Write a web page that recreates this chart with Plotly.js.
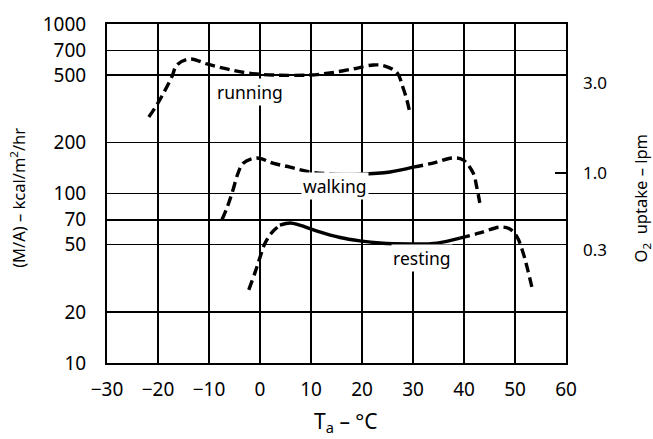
<!DOCTYPE html>
<html>
<head>
<meta charset="utf-8">
<script src="https://cdn.plot.ly/plotly-3.0.1.min.js"></script>
<style>
  html, body { margin: 0; padding: 0; background: #fff; }
  #chart { width: 653px; height: 439px; }
</style>
</head>
<body>
<div id="chart"></div>
<script>
// Metabolic rate per unit body surface vs ambient temperature
const runningTemp = [-21.8, -20.0, -17.3, -16.3, -13.7, -10.4, -6.5, -2.5, 2.5, 9.8, 13.7, 18.2, 22.2, 24.5, 26.9, 28.0, 28.8, 29.4];
const runningRate = [283, 342, 487, 573, 622, 581, 543, 514, 500, 500, 514, 543, 573, 565, 514, 425, 356, 299];

const walkingTemp = [-7.45, -6.3, -5.3, -4.3, -3.3, -0.6, 2.5, 5.9, 9.8, 14.3, 19.6, 25.5, 30.0, 33.9, 37.8, 39.8, 41.8, 42.5, 43.1];
const walkingRate = [70, 85, 105, 132, 151, 162, 151, 143, 134, 130, 130, 134, 143, 151, 162, 158, 132, 109, 88];

const restingTemp = [-2.2, -1.0, 0.0, 1.0, 2.35, 3.9, 5.9, 7.8, 11.2, 15.7, 19.6, 23.5, 30.0, 34.7, 39.2, 43.1, 47.1, 49.0, 50.4, 51.6, 52.5, 53.3];
const restingRate = [27, 34, 42, 51, 59, 65, 67, 65, 60, 55, 52.5, 51, 50.4, 51, 54.6, 58.5, 63.4, 61.7, 55.4, 44.6, 35.4, 28.1];

const curveNames = ['running', 'walking', 'resting'];

const xTickVals = [-30, -20, -10, 0, 10, 20, 30, 40, 50, 60];
const xTickText = ['\u221230', '\u221220', '\u221210', '0', '10', '20', '30', '40', '50', '60'];
const yTickVals = [10, 20, 50, 70, 100, 200, 500, 700, 1000];
const yTickText = ['10', '20', '50', '70', '100', '200', '500', '700', '1000'];

// O2 uptake scale, placed at the equivalent metabolic rate
const o2Text = ['3.0', '1.0', '0.3'];
const o2AtRate = [449, 132, 46.4];

const FONT = 'Noto Sans, DejaVu Sans, sans-serif';
const DASH = '10px,5px';

// split a curve into dashed / solid / dashed parts by temperature span
function pieces(xs, ys, solidSpan) {
  const out = [];
  if (!solidSpan) {
    out.push({ x: xs, y: ys, dash: DASH });
    return out;
  }
  const i0 = xs.findIndex(v => v >= solidSpan[0]);
  let i1 = xs.length - 1;
  for (let i = 0; i < xs.length; i++) if (xs[i] <= solidSpan[1]) i1 = i;
  out.push({ x: xs.slice(0, i0 + 1), y: ys.slice(0, i0 + 1), dash: DASH });
  out.push({ x: xs.slice(i0, i1 + 1), y: ys.slice(i0, i1 + 1), dash: 'solid' });
  out.push({ x: xs.slice(i1), y: ys.slice(i1), dash: DASH });
  return out;
}

const curves = [
  { xs: runningTemp, ys: runningRate, solid: null },
  { xs: walkingTemp, ys: walkingRate, solid: [14, 30.5] },
  { xs: restingTemp, ys: restingRate, solid: [3.5, 39.5] }
];

const traces = [];
curves.forEach((c, k) => {
  pieces(c.xs, c.ys, c.solid).forEach(p => {
    traces.push({
      type: 'scatter', mode: 'lines', x: p.x, y: p.y,
      name: curveNames[k], showlegend: false, hoverinfo: 'skip',
      line: { color: '#000', width: 3.4, dash: p.dash, shape: 'spline', smoothing: 1 }
    });
  });
});
// keep the right-hand axes alive
traces.push({ type: 'scatter', x: [null], y: [null], yaxis: 'y2', showlegend: false, hoverinfo: 'skip' });
traces.push({ type: 'scatter', x: [null], y: [null], yaxis: 'y3', showlegend: false, hoverinfo: 'skip' });

const labelAt = [[-2.0, 397], [14.7, 111], [31.8, 41.6]];
const annotations = curveNames.map((n, k) => ({
  x: labelAt[k][0], y: Math.log10(labelAt[k][1]), xref: 'x', yref: 'y',
  text: n, showarrow: false, bgcolor: '#fff', borderpad: 1,
  font: { family: FONT, size: 17.5, color: '#000' }
}));

annotations.push({
  xref: 'paper', yref: 'paper', x: -0.194, y: 0.487, textangle: -90,
  xanchor: 'center', yanchor: 'middle',
  text: '(M/A) \u2013 kcal/m<sup>2</sup>/hr', showarrow: false,
  font: { family: FONT, size: 16.5, color: '#000' }
});
annotations.push({
  xref: 'paper', yref: 'paper', x: 1.163, y: 0.485, textangle: -90,
  xanchor: 'center', yanchor: 'middle',
  text: 'O<sub>2</sub>  uptake \u2013 lpm', showarrow: false,
  font: { family: FONT, size: 16.5, color: '#000' }
});
annotations.push({
  xref: 'paper', yref: 'paper', x: 0.52, y: -0.175,
  xanchor: 'center', yanchor: 'middle',
  text: 'T<sub>a</sub> \u2013 \u00b0C', showarrow: false,
  font: { family: FONT, size: 21, color: '#000' }
});

const layout = {
  width: 653, height: 439,
  margin: { l: 107, r: 87, t: 24, b: 76 },
  paper_bgcolor: '#fff', plot_bgcolor: '#fff',
  showlegend: false,
  font: { family: FONT, color: '#000' },
  xaxis: {
    range: [-30, 60], tickvals: xTickVals, ticktext: xTickText,
    showgrid: true, gridcolor: '#000', gridwidth: 1.5,
    showline: true, mirror: true, linecolor: '#000', linewidth: 2,
    ticks: '', zeroline: false, ticklabelstandoff: 8,
    tickfont: { family: FONT, size: 19, color: '#000' }
  },
  yaxis: {
    type: 'log', range: [1, 3], tickvals: yTickVals, ticktext: yTickText,
    showgrid: true, gridcolor: '#000', gridwidth: 1.5,
    showline: true, mirror: true, linecolor: '#000', linewidth: 2,
    ticks: '', zeroline: false, ticklabelstandoff: 15,
    tickfont: { family: FONT, size: 19, color: '#000' }
  },
  yaxis2: {
    type: 'log', range: [1, 3], overlaying: 'y', side: 'right',
    tickvals: o2AtRate, ticktext: o2Text, ticks: '',
    showgrid: false, zeroline: false, showline: false, ticklabelstandoff: 16,
    tickfont: { family: FONT, size: 17, color: '#000' }
  },
  yaxis3: {
    type: 'log', range: [1, 3], overlaying: 'y', side: 'right',
    tickvals: [o2AtRate[1]], showticklabels: false,
    ticks: 'inside', ticklen: 11, tickwidth: 2, tickcolor: '#000',
    showgrid: false, zeroline: false, showline: false
  },
  annotations: annotations
};

Plotly.newPlot('chart', traces, layout, { staticPlot: true, displayModeBar: false });
</script>
</body>
</html>
